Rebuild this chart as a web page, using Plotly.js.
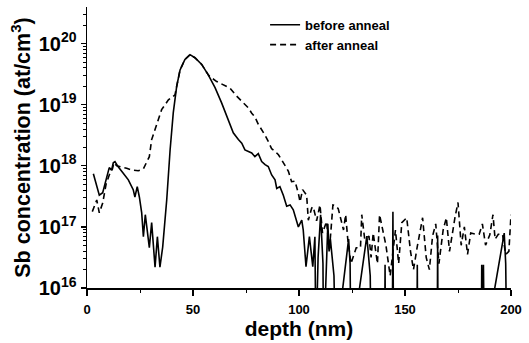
<!DOCTYPE html>
<html>
<head>
<meta charset="utf-8">
<script src="https://cdn.plot.ly/plotly-3.0.1.min.js"></script>
<style>html,body{margin:0;padding:0;background:#fff}#chart{width:529px;height:343px}</style>
</head>
<body>
<div id="chart"></div>
<script>
// depth (nm) and log10 of Sb concentration (at/cm^3)
// values of 15.0 lie below the axis floor (signal under detection limit)
const beforeDepth = [3.0,5.8,7.4,9.3,10.5,11.6,12.4,13.2,14.8,17.1,19.5,21.8,22.6,23.7,24.7,25.8,26.6,27.5,28.6,29.4,30.5,32.1,33.2,34.4,35.7,37.6,39.2,40.7,42.3,43.9,46.2,48.6,50.9,54.1,57.2,60.4,63.5,66.7,69.0,71.4,73.0,74.5,76.1,77.7,79.2,80.8,82.4,84.0,85.5,87.1,88.7,89.5,91.0,92.6,94.2,95.8,97.3,99.7,101.3,102.0,103.3,104.9,106.5,107.5,108.0,109.0,110.2,111.3,111.6,112.8,113.6,114.2,114.8,116.5,117.2,123.4,124.1,124.5,132.0,133.6,134.0,140.4,140.6,140.8,144.0,144.3,144.6,155.6,155.8,156.0,165.2,165.4,165.6,186.0,186.2,186.6,187.0,187.4,196.8,197.5,198.0,200.0];
const beforeLog = [17.87,17.52,17.56,17.82,17.97,17.93,18.05,18.07,17.98,17.88,17.77,17.61,17.49,17.66,17.49,17.23,16.84,17.20,16.90,16.66,17.07,16.34,16.84,16.34,16.67,17.44,18.26,18.87,19.30,19.57,19.74,19.82,19.77,19.66,19.49,19.28,19.03,18.75,18.54,18.43,18.37,18.26,18.23,18.21,18.15,18.20,18.07,18.02,17.99,17.85,17.77,17.63,17.66,17.52,17.34,17.36,17.28,17.00,17.11,16.95,16.35,16.84,16.35,16.84,15.0,16.50,17.20,16.40,15.0,16.30,17.05,16.60,16.80,16.20,15.0,16.80,16.40,15.0,16.85,16.20,15.0,15.0,16.38,15.0,15.0,17.25,15.0,15.0,16.38,15.0,15.0,16.86,15.0,15.0,16.38,15.0,16.38,15.0,16.90,16.40,15.0,15.0];

const afterDepth = [2.5,4.6,5.8,7.4,9.0,10.5,12.0,12.7,14.0,15.6,18.7,21.1,24.2,26.6,29.4,30.5,32.9,35.2,38.4,41.5,42.3,43.9,46.2,48.6,50.9,54.1,57.2,58.0,61.2,64.3,67.5,70.6,72.2,74.5,76.1,77.7,79.2,80.8,82.4,84.0,85.5,87.1,88.7,90.3,91.8,93.4,95.0,96.5,98.1,99.7,100.5,101.7,103.6,104.4,106.0,106.7,108.3,109.9,111.1,113.0,114.3,116.0,117.0,118.5,121.0,122.0,123.0,124.5,127.0,129.0,129.6,131.0,133.0,134.0,135.0,137.0,138.0,141.0,143.0,145.5,147.0,148.5,150.8,152.6,154.0,155.8,158.3,160.0,161.5,163.0,164.5,166.0,168.0,169.5,171.0,173.6,175.0,176.5,178.0,179.5,181.0,183.6,185.0,186.5,188.0,190.0,191.5,192.5,194.0,196.0,197.5,199.0,200.0];
const afterLog = [17.25,17.44,17.23,17.39,17.70,17.85,17.95,18.05,18.00,17.99,17.96,17.93,17.92,17.95,18.15,18.43,18.70,18.92,19.08,19.16,19.30,19.57,19.74,19.82,19.77,19.66,19.49,19.46,19.38,19.33,19.27,19.14,19.08,19.00,18.95,18.86,18.80,18.68,18.60,18.50,18.40,18.28,18.24,18.18,18.10,18.00,17.91,17.74,17.75,17.55,17.41,17.61,17.52,17.11,17.31,17.33,17.10,17.36,16.90,17.09,16.60,17.36,17.35,17.30,16.95,17.20,16.80,16.40,16.66,16.66,17.20,16.80,16.85,16.50,16.90,16.40,17.20,16.70,16.20,16.95,16.40,17.07,17.15,16.60,16.30,16.68,17.15,16.50,16.30,16.85,17.05,16.40,16.95,17.15,16.60,17.16,17.40,16.70,17.00,16.55,16.90,16.88,16.88,17.05,16.70,16.87,17.20,16.80,16.88,16.88,16.55,16.60,17.20];

const seriesNames = ['before anneal','after anneal'];
const yTickVals = [1e16,1e17,1e18,1e19,1e20];
const yTickText = ['10<sup>16</sup>','10<sup>17</sup>','10<sup>18</sup>','10<sup>19</sup>','10<sup>20</sup>'];
const xTickVals = [0,50,100,150,200];

const toConc = a => a.map(v => Math.pow(10, v));
const FONT = 'Liberation Sans, Arial, sans-serif';

const traces = [
  {x: beforeDepth, y: toConc(beforeLog), name: seriesNames[0], mode: 'lines', type: 'scatter',
   line: {color: '#000', width: 1.6, dash: 'solid'}},
  {x: afterDepth, y: toConc(afterLog), name: seriesNames[1], mode: 'lines', type: 'scatter',
   line: {color: '#000', width: 1.6, dash: '6px,4px'}}
];

const layout = {
  width: 529, height: 343,
  margin: {l: 87, r: 18, t: 7, b: 55},
  paper_bgcolor: '#fff', plot_bgcolor: '#fff',
  showlegend: true,
  legend: {x: 0.42, y: 0.99, xanchor: 'left', yanchor: 'top', bgcolor: 'rgba(0,0,0,0)',
           font: {family: FONT, size: 13, color: '#000', weight: 'bold'}, itemwidth: 30, tracegroupgap: 0},
  xaxis: {
    range: [0, 200], showline: true, linecolor: '#000', linewidth: 1.5, mirror: false,
    showgrid: false, zeroline: false, ticks: 'outside', ticklen: 6, tickwidth: 1.2, tickcolor: '#000',
    ticklabelstandoff: 3,
    tickvals: xTickVals, tickfont: {family: FONT, size: 13, color: '#000', weight: 'bold'},
    minor: {ticks: 'outside', ticklen: 3, tickwidth: 1, tickcolor: '#000', dtick: 25, showgrid: false},
    title: {text: 'depth (nm)', font: {family: FONT, size: 21, color: '#000', weight: 'bold'}, standoff: 2}
  },
  yaxis: {
    type: 'log', range: [16, 20.6], showline: true, linecolor: '#000', linewidth: 1.5, mirror: false,
    showgrid: false, zeroline: false, ticks: 'outside', ticklen: 5, tickwidth: 1.2, tickcolor: '#000',
    tickvals: yTickVals, ticktext: yTickText,
    tickfont: {family: FONT, size: 20, color: '#000', weight: 'bold'},
    minor: {ticks: 'outside', ticklen: 3, tickwidth: 1, tickcolor: '#000', dtick: 'D1', showgrid: false},
    title: {text: 'Sb concentration (at/cm<sup>3</sup>)', font: {family: FONT, size: 21.5, color: '#000', weight: 'bold'}, standoff: 2}
  }
};

Plotly.newPlot('chart', traces, layout, {displayModeBar: false, staticPlot: true});
</script>
</body>
</html>
